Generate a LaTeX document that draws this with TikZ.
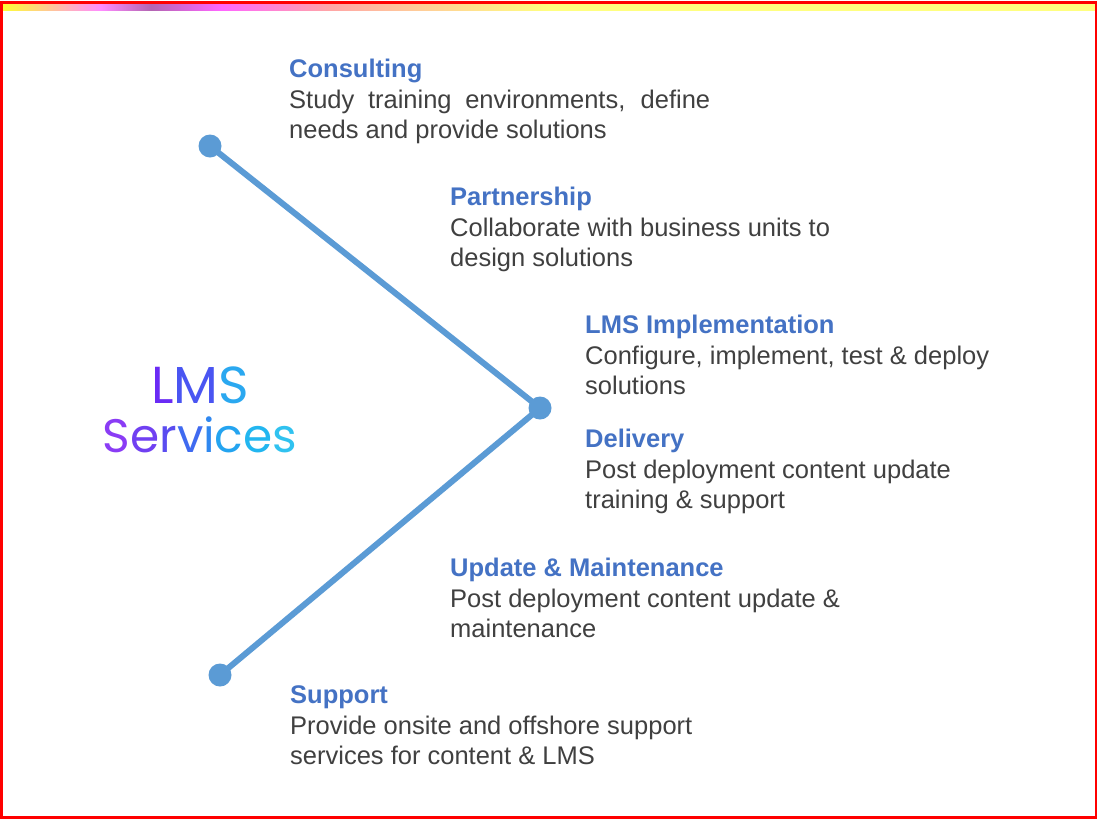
\documentclass[tikz,border=0pt]{standalone}
\usepackage{fontspec}
\setmainfont{Liberation Sans}
\newfontfamily\popfont{Poppins}
\usetikzlibrary{calc}
\definecolor{headblue}{HTML}{4472C4}
\definecolor{bodygray}{HTML}{404040}
\definecolor{linblue}{HTML}{5B9BD5}
\definecolor{gA}{HTML}{6A2BF5}
\definecolor{gB}{HTML}{4A55F2}
\definecolor{gC}{HTML}{2AA8F0}
\definecolor{sA}{HTML}{8A3CF5}
\definecolor{sB}{HTML}{7040F2}
\definecolor{sC}{HTML}{5A4CF0}
\definecolor{sD}{HTML}{3F6AF0}
\definecolor{sE}{HTML}{3088F0}
\definecolor{sF}{HTML}{24A4F0}
\definecolor{sG}{HTML}{22B6F0}
\definecolor{sH}{HTML}{30C2F0}
\pgfdeclarehorizontalshading{topband}{100bp}{%
  color(0bp)=(yellow!80!white);
  color(25bp)=(yellow!80!white);
  color(29.5bp)=(magenta!45!white);
  color(31.8bp)=(violet!60!white);
  color(35bp)=(magenta!60!white);
  color(40bp)=(red!35!white);
  color(44bp)=(orange!40!white);
  color(50bp)=(yellow!50!white);
  color(75bp)=(yellow!50!white);
  color(100bp)=(yellow!50!white)}
\tikzset{
  blk/.style={anchor=base west, align=left, inner sep=0pt, text=bodygray,
    font=\fontsize{25.5}{29.5}\selectfont},
  dot/.style={circle, fill=linblue, inner sep=0pt, minimum size=23pt},
  conn/.style={draw=linblue, line width=6pt},
}
\newcommand{\hd}[1]{{\bfseries\color{headblue}#1}}
\begin{document}
\begin{tikzpicture}[x=1pt,y=-1pt]
\useasboundingbox (0,0) rectangle (1098,820);
\fill[white] (0,0) rectangle (1098,820);
\shade[shading=topband] (2,3) rectangle (1096,10);
\draw[red, line width=2.5pt] (1.5,2.5) rectangle (1096,817.5);

% connectors
\node[dot] (top) at (210,146) {};
\node[dot] (mid) at (540,408) {};
\node[dot] (bot) at (220,675) {};
\draw[conn] (top.center) -- (mid.center) -- (bot.center);

% title
\node[anchor=base, inner sep=0pt, font=\popfont\fontsize{52}{54}\selectfont] (t1) at (200,403)
  {\textcolor{gA}{L}\textcolor{gB}{M}\textcolor{gC}{S}};
\node[anchor=base, inner sep=0pt, font=\popfont\fontsize{47}{50}\selectfont] (t2) at (200,452)
  {\textcolor{sA}{S}\textcolor{sB}{e}\textcolor{sC}{r}\textcolor{sD}{v}\textcolor{sE}{i}\textcolor{sF}{c}\textcolor{sG}{e}\textcolor{sH}{s}};

% text blocks (base anchor = last line baseline)
\node[blk] (consult) at (289,138) {\hd{Consulting}\\[2pt]\makebox[421pt][s]{Study training environments, define}\\needs and provide solutions};
\node[blk] (partner) at (450,266) {\hd{Partnership}\\[2pt]Collaborate with business units to\\design solutions};
\node[blk] (impl) at (585,394) {\hd{LMS Implementation}\\[2pt]Configure, implement, test \& deploy\\solutions};
\node[blk] (deliv) at (585,508) {\hd{Delivery}\\[2pt]Post deployment content update\\training \& support};
\node[blk] (update) at (450,637) {\hd{Update \& Maintenance}\\[2pt]Post deployment content update \&\\maintenance};
\node[blk] (support) at (290,764) {\hd{Support}\\[2pt]Provide onsite and offshore support\\services for content \& LMS};
\end{tikzpicture}
\end{document}
